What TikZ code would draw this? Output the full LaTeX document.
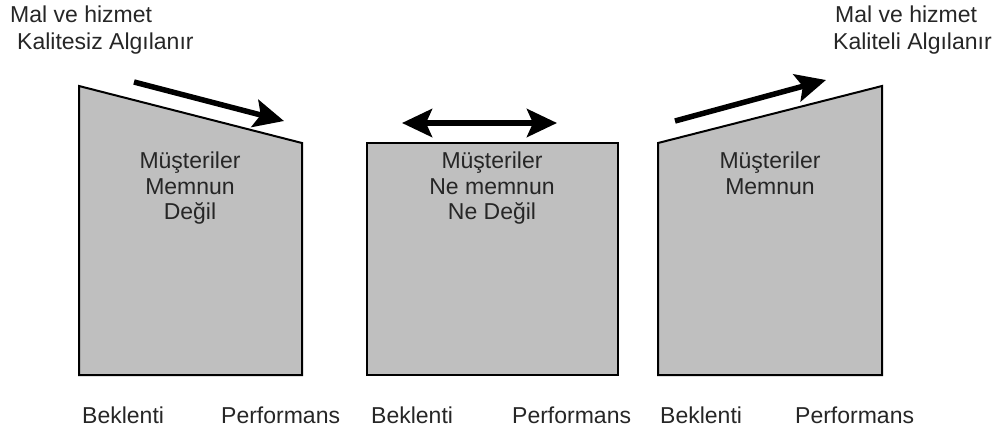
\documentclass[tikz,border=0pt]{standalone}
\usepackage{fontspec}
\setmainfont{Liberation Sans}
\usetikzlibrary{arrows.meta}
\begin{document}
\begin{tikzpicture}[x=1pt,y=-1pt,
  panel/.style={draw=black,line width=2pt,fill=black!25,line join=miter},
  bigarrow/.style={line width=5.5pt,-{Stealth[length=30pt,width=28pt,inset=6pt]}},
  bigboth/.style={line width=5.5pt,{Stealth[length=30pt,width=28pt,inset=6pt]}-{Stealth[length=30pt,width=28pt,inset=6pt]}},
  lbl/.style={font=\fontsize{23}{25.5}\selectfont,text=black!85,inner sep=0pt},
  body/.style={lbl,align=center}]
\useasboundingbox (0,0) rectangle (999,432);

% three panels
\draw[panel] (79,86) -- (302,143) -- (302,375) -- (79,375) -- cycle;
\draw[panel] (367,143) -- (618,143) -- (618,375) -- (367,375) -- cycle;
\draw[panel] (658,143) -- (882,86) -- (882,375) -- (658,375) -- cycle;

% arrows along the tops
\coordinate (la) at (134,82);
\coordinate (lb) at (284,121);
\draw[bigarrow] (la) -- (lb);
\coordinate (ma) at (402,123);
\coordinate (mb) at (557,123);
\draw[bigboth] (ma) -- (mb);
\coordinate (ra) at (675,121);
\coordinate (rb) at (826,80);
\draw[bigarrow] (ra) -- (rb);

% headings
\node[lbl,anchor=base west] (h1) at (10,22) {Mal ve hizmet};
\node[lbl,anchor=base west] (h2) at (17,49) {Kalitesiz Algılanır};
\node[lbl,anchor=base west] (h3) at (835,22) {Mal ve hizmet};
\node[lbl,anchor=base west] (h4) at (833,49) {Kaliteli Algılanır};

% panel texts
\node[body,anchor=north] (t1) at (190,152) {Müşteriler\\Memnun\\Değil};
\node[body,anchor=north] (t2) at (492,152) {Müşteriler\\Ne memnun\\Ne Değil};
\node[body,anchor=north] (t3) at (770,152) {Müşteriler\\Memnun};

% axis labels
\node[lbl,anchor=base west] (b1) at (82,423) {Beklenti};
\node[lbl,anchor=base west] (p1) at (221,423) {Performans};
\node[lbl,anchor=base west] (b2) at (371,423) {Beklenti};
\node[lbl,anchor=base west] (p2) at (512,423) {Performans};
\node[lbl,anchor=base west] (b3) at (660,423) {Beklenti};
\node[lbl,anchor=base west] (p3) at (795,423) {Performans};
\end{tikzpicture}
\end{document}
